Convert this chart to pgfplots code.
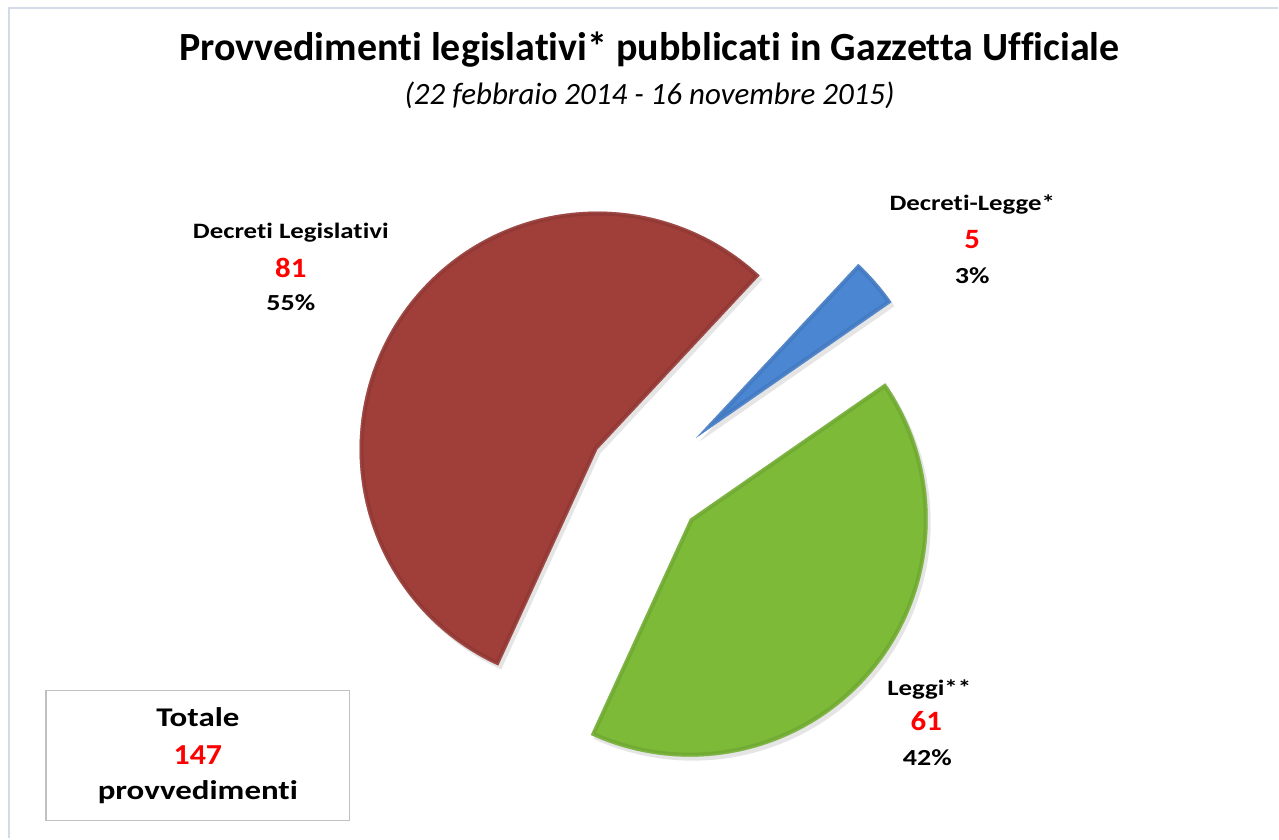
\documentclass[border=0pt]{standalone}
\usepackage{pgfplots}
\pgfplotsset{compat=1.18}
\usepackage{fontspec}
\setmainfont{Carlito}[Ligatures={NoCommon,NoRequired,NoContextual}]
\newfontfamily\lblfont{Carlito}[FakeStretch=1.22,Ligatures={NoCommon,NoRequired,NoContextual}]
\newfontfamily\numfont{Carlito}[FakeStretch=1.1]

\definecolor{redslice}{HTML}{A03E3A}
\definecolor{greenslice}{HTML}{7CBA38}
\definecolor{blueslice}{HTML}{4A86D2}
\definecolor{framecol}{HTML}{D3DBE8}
\definecolor{boxcol}{HTML}{C0C0C0}

% values of the chart
\def\vDLeg{81}   % Decreti Legislativi
\def\vLeggi{61}  % Leggi
\def\vDLegge{5}  % Decreti-Legge
\pgfmathsetmacro\total{\vDLeg+\vLeggi+\vDLegge}

% pie geometry (axis units = px of the reference)
\def\cx{646}\def\cy{357}\def\R{238}
\def\startangle{47}
\pgfmathsetmacro\aA{\startangle}
\pgfmathsetmacro\sA{360/\total*\vDLeg}
\pgfmathsetmacro\aB{\aA+\sA}
\pgfmathsetmacro\sB{360/\total*\vLeggi}
\pgfmathsetmacro\aC{\aB+\sB}
\pgfmathsetmacro\sC{360/\total*\vDLegge}
% exploded apexes
\pgfmathsetmacro\xA{\cx+58*cos(\aA+\sA/2)}
\pgfmathsetmacro\yA{\cy+58*sin(\aA+\sA/2)}
\pgfmathsetmacro\xB{\cx+58*cos(\aB+\sB/2)}
\pgfmathsetmacro\yB{\cy+58*sin(\aB+\sB/2)}
\pgfmathsetmacro\xC{\cx+67*cos(\aC+\sC/2)}
\pgfmathsetmacro\yC{\cy+67*sin(\aC+\sC/2)}

\newcommand\slicepath[4]{(axis cs:#1,#2) -- ++(#3:\R pt)
  arc[start angle=#3, delta angle=#4, radius=\R pt] -- cycle}
\newcommand\slice[5]{%
  \fill[black, opacity=0.10, shift={(3pt,-4pt)}] \slicepath{#1}{#2}{#3}{#4};
  \fill[#5] \slicepath{#1}{#2}{#3}{#4};
  \begin{scope}
    \clip \slicepath{#1}{#2}{#3}{#4};
    \draw[#5!70!black, opacity=0.25, line width=8pt] \slicepath{#1}{#2}{#3}{#4};
    \draw[#5!75!white, opacity=0.3, line width=3pt] \slicepath{#1}{#2}{#3}{#4};
  \end{scope}
}

\newcommand\lbl{\lblfont\bfseries\fontsize{22}{26}\selectfont}
\newcommand\num{\numfont\bfseries\fontsize{28}{32}\selectfont\color{red}}
\newcommand\pct{\lblfont\bfseries\fontsize{23}{27}\selectfont}

\begin{document}
\begin{tikzpicture}
\begin{axis}[
    scale only axis,
    width=1279pt, height=839pt,
    xmin=0, xmax=1279, ymin=0, ymax=839,
    hide axis, clip=false,
  ]
  % background and frame
  \fill[white] (axis cs:0,0) rectangle (axis cs:1279,839);
  \draw[framecol, line width=2pt] (axis cs:9,0) -- (axis cs:9,831) -- (axis cs:1279,831);

  % slices
  \slice{\xA}{\yA}{\aA}{\sA}{redslice}
  \slice{\xB}{\yB}{\aB}{\sB}{greenslice}
  \slice{\xC}{\yC}{\aC}{\sC}{blueslice}

  % titles
  \node[font=\bfseries\fontsize{40}{46}\selectfont] at (axis cs:650,789)
    {Provvedimenti legislativi* pubblicati in Gazzetta Ufficiale};
  \node[font=\itshape\fontsize{31}{36}\selectfont] at (axis cs:650,744)
    {(22 febbraio 2014 - 16 novembre 2015)};

  % data labels
  \node[font=\lbl] at (axis cs:291,606) {Decreti Legislativi};
  \node[font=\num] at (axis cs:291,571) {\vDLeg};
  \node[font=\pct] at (axis cs:291,536) {55\%};

  \node[font=\lbl] at (axis cs:973,634) {Decreti-Legge*};
  \node[font=\num] at (axis cs:973,599) {\vDLegge};
  \node[font=\pct] at (axis cs:973,563) {3\%};

  \node[font=\lbl] at (axis cs:930,149) {Leggi**};
  \node[font=\num] at (axis cs:927,117) {\vLeggi};
  \node[font=\pct] at (axis cs:928,81) {42\%};

  % total box
  \draw[boxcol, line width=1.5pt] (axis cs:46,18) rectangle (axis cs:350,148);
  \node[font=\lblfont\bfseries\fontsize{27}{31}\selectfont] at (axis cs:198,121) {Totale};
  \node[font=\numfont\bfseries\fontsize{29}{33}\selectfont\color{red}] at (axis cs:198,83) {147};
  \node[font=\lblfont\bfseries\fontsize{27}{31}\selectfont] at (axis cs:198,46) {provvedimenti};
\end{axis}
\end{tikzpicture}
\end{document}
